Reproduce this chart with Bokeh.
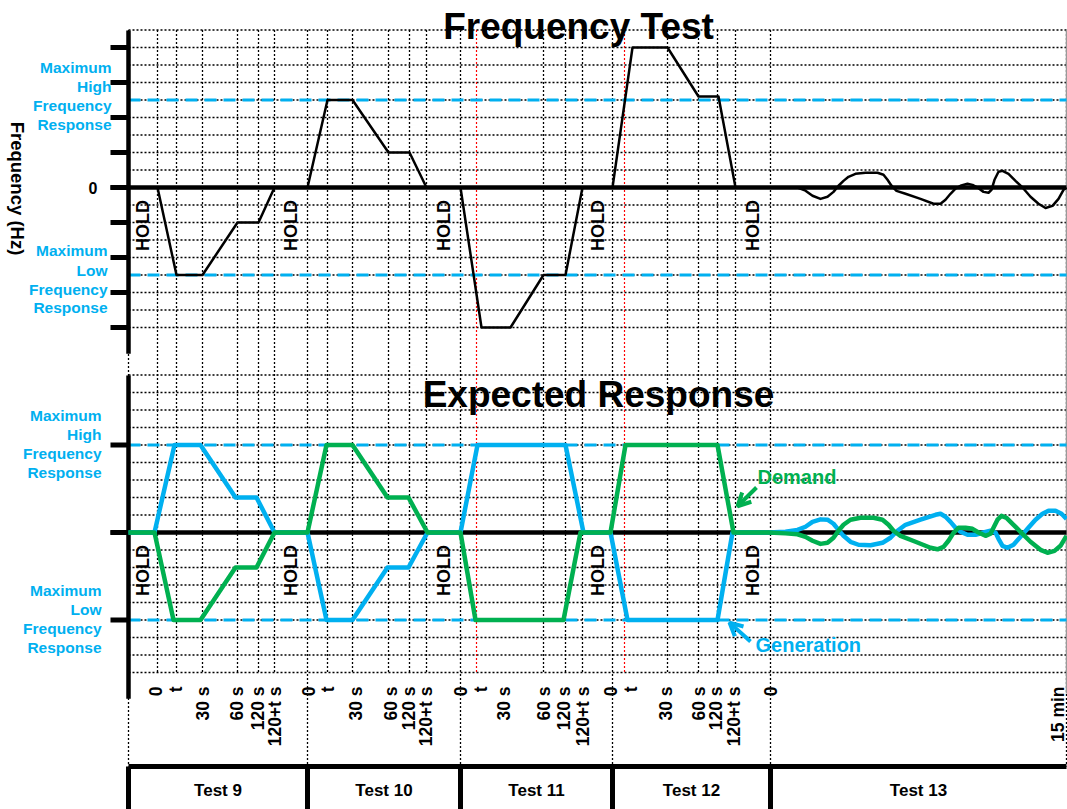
import numpy as np
from bokeh.plotting import figure
from bokeh.models import Range1d, Arrow, OpenHead
from bokeh.core.properties import value
from bokeh.embed import file_html
from bokeh.resources import INLINE

FONT = value("Liberation Sans")
CYAN = "#00B0F0"
GREEN = "#00B050"

# ---------------- data (schematic time axis, panel units) ----------------
tests = ["Test 9", "Test 10", "Test 11", "Test 12", "Test 13"]
test_edges = [0, 179, 332, 484, 642, 938]
hold_start = [0, 146, 298, 454, 607]
hold_end = [29, 179, 332, 484, 642]

tick_x = [27, 47, 74, 108, 129, 146,
          180, 199, 227, 262, 280, 297,
          332, 352, 375, 415, 435, 454,
          482, 502, 537, 570, 587, 605,
          642, 929]
tick_labels = ["0", "t", "30 s", "60 s", "120 s", "120+t s"] * 4 + ["0", "15 min"]

grid_x = [29, 48, 74, 109, 130, 146, 199, 224, 260, 281, 298,
          415, 437, 454, 539, 570, 589, 607]
red_x = [348, 496]

top_ticks = [-8, -6, -4, -2, 0, 2, 4, 6, 8]
bot_ticks = [-5, 0, 5]
limits = [5, -5]

# Frequency Test (black)
freq_x = [0, 29, 48, 74, 109, 130, 146,
          179, 199, 224, 260, 281, 298,
          332, 353, 382, 415, 437, 454,
          484, 504, 539, 570, 590, 607,
          642, 669, 677, 684, 692, 699, 705, 710, 715, 720, 727, 737, 749, 755,
          759, 763, 768, 777, 792, 805, 812, 817, 822, 827, 832, 839, 844, 849,
          855, 860, 863, 866, 870, 874, 880, 887, 894, 902, 910, 917, 924, 930,
          935, 938]
freq_y = [0, 0, -5, -5, -2, -2, 0,
          0, 5, 5, 2, 2, 0,
          0, -8, -8, -5, -5, 0,
          0, 8, 8, 5.2, 5.2, 0,
          0, 0, -0.18, -0.47, -0.65, -0.53, -0.25, 0.1, 0.38, 0.61, 0.78, 0.84, 0.84, 0.73,
          0.44, 0.1, -0.19, -0.36, -0.65, -0.93, -0.93, -0.7, -0.36, -0.07, 0.1, 0.21, 0.15, 0,
          -0.25, -0.3, -0.13, 0.44, 0.9, 0.95, 0.78, 0.38, 0, -0.53, -0.93, -1.17, -1.05, -0.65,
          -0.13, 0]

# Expected Response: Generation (blue)
gen_x = [0, 26, 46, 72, 107, 128, 146,
         179, 198, 224, 259, 280, 299,
         332, 349, 437, 455,
         482, 499, 589, 604,
         640, 657, 669, 677, 684, 692, 699, 705, 710, 715, 722, 730, 742, 754, 762,
         769, 777, 792, 807, 812, 817, 822, 827, 832, 839, 847, 855, 862, 867, 870,
         874, 879, 885, 892, 899, 907, 914, 920, 927, 933, 938]
gen_y = [0, 0, 5, 5, 2, 2, 0,
         0, -5, -5, -2, -2, 0,
         0, 5, 5, 0,
         0, -5, -5, 0,
         0, 0.04, 0.15, 0.33, 0.61, 0.75, 0.73, 0.5, 0.15, -0.19, -0.53, -0.7, -0.73, -0.59, -0.3,
         0.1, 0.44, 0.73, 1.01, 1.07, 0.9, 0.61, 0.27, 0.04, -0.13, -0.13, 0, 0.1, 0, -0.36,
         -0.76, -0.87, -0.7, -0.25, 0.21, 0.73, 1.07, 1.24, 1.24, 1.07, 0.78]

# Expected Response: Demand (green)
dem_x = [0, 26, 45, 72, 107, 128, 146,
         179, 198, 224, 259, 280, 299,
         332, 347, 435, 452,
         482, 497, 589, 605,
         640, 657, 669, 677, 684, 692, 699, 705, 710, 715, 722, 732, 745, 754, 760,
         765, 772, 787, 802, 809, 815, 820, 825, 830, 837, 844, 850, 857, 862, 865,
         869, 873, 878, 885, 892, 902, 912, 919, 926, 932, 938]
dem_y = [0, 0, -5, -5, -2, -2, 0,
         0, 5, 5, 2, 2, 0,
         0, -5, -5, 0,
         0, 5, 5, 0,
         0, -0.05, -0.1, -0.25, -0.47, -0.65, -0.59, -0.3, 0.1, 0.44, 0.73, 0.84, 0.84, 0.73, 0.44,
         0.1, -0.19, -0.53, -0.87, -0.96, -0.82, -0.47, -0.02, 0.27, 0.27, 0.21, 0, -0.19, -0.07, 0.27,
         0.73, 0.95, 0.84, 0.44, 0.04, -0.53, -0.99, -1.16, -1.05, -0.76, -0.19]

# ---------------- layout ----------------
W, H = 1067, 809
U = 17.5                 # px per unit
TOP0 = 187.0             # canvas row of top-panel zero
BOT0 = 532.0             # canvas row of bottom-panel zero
OFF = (BOT0 - TOP0) / U  # bottom-panel offset in top units
X0 = 128                 # canvas column of the axis


def ycan(py):
    """canvas pixel row -> top-panel units"""
    return (TOP0 - py) / U


p = figure(width=W, height=H, x_range=Range1d(-X0, W - X0),
           y_range=Range1d((TOP0 - H) / U, TOP0 / U),
           x_axis_type=None, y_axis_type=None,
           toolbar_location=None, output_backend="svg",
           min_border=0, outline_line_color=None,
           background_fill_color="white", border_fill_color="white")
p.extra_y_ranges = {"bot": Range1d((BOT0 - H) / U, BOT0 / U)}

XL, XR = 0, 938
levels = list(range(-8, 10))
DOT = dict(line_color="black", line_width=1.3, line_dash="2 2")

# horizontal dotted grid
p.segment(x0=[XL] * len(levels), x1=[XR] * len(levels), y0=levels, y1=levels, **DOT)
p.segment(x0=[XL] * len(levels), x1=[XR] * len(levels), y0=levels, y1=levels,
          y_range_name="bot", **DOT)

# vertical dotted grid
gtop, gbot = 9.0, -8.0 - OFF
p.segment(x0=grid_x, x1=grid_x, y0=[gtop] * len(grid_x), y1=[gbot] * len(grid_x), **DOT)
box_y = ycan(766)
p.segment(x0=test_edges, x1=test_edges, y0=[gtop] * len(test_edges),
          y1=[box_y] * len(test_edges), **DOT)
p.segment(x0=red_x, x1=red_x, y0=[gtop] * len(red_x), y1=[gbot] * len(red_x),
          line_color="red", line_width=1.2, line_dash="2 2")
p.segment(x0=[XR], x1=[XR], y0=[gtop], y1=[ycan(693)], line_color="#999999", line_width=1.5)

# response limits (cyan dashed)
for rng in ("default", "bot"):
    p.segment(x0=[XL] * 2, x1=[XR] * 2, y0=limits, y1=limits,
              line_color=CYAN, line_width=3, line_dash="12 7", y_range_name=rng)

# zero lines and ticks
p.segment(x0=[-18], x1=[XR], y0=[0], y1=[0], line_color="black", line_width=4.5)
p.segment(x0=[-18], x1=[XR], y0=[0], y1=[0], line_color="black", line_width=4.5,
          y_range_name="bot")
p.segment(x0=[-18] * len(top_ticks), x1=[0] * len(top_ticks), y0=top_ticks, y1=top_ticks,
          line_color="black", line_width=5)
p.segment(x0=[-18] * len(bot_ticks), x1=[0] * len(bot_ticks), y0=bot_ticks, y1=bot_ticks,
          line_color="black", line_width=5, y_range_name="bot")

# left axis lines
p.segment(x0=[0], x1=[0], y0=[8.97], y1=[-9.5], line_color="black", line_width=4.5)
p.segment(x0=[0], x1=[0], y0=[8.97], y1=[-9.5], line_color="black", line_width=4.5,
          y_range_name="bot")

# series
p.line(freq_x, freq_y, line_color="black", line_width=2.5, line_join="round")
p.line(gen_x, gen_y, line_color=CYAN, line_width=4.5, line_join="round", y_range_name="bot")
p.line(dem_x, dem_y, line_color=GREEN, line_width=4.5, line_join="round", y_range_name="bot")

# HOLD labels
hold_mid = [(a + b) / 2 for a, b in zip(hold_start, hold_end)]
for rng in ("default", "bot"):
    p.text(x=hold_mid, y=[-2.17] * len(hold_mid), text=["HOLD"] * len(hold_mid),
           angle=np.pi / 2, text_align="center", text_baseline="middle",
           text_font=FONT, text_font_style="bold", text_font_size="18px",
           text_color="black", y_range_name=rng)

# titles
p.text(x=[450], y=[ycan(26)], text=["Frequency Test"], text_align="center",
       text_baseline="alphabetic", text_font=FONT, text_font_style="bold",
       text_font_size="37px", text_color="black")
p.text(x=[470], y=[ycan(394)], text=["Expected Response"], text_align="center",
       text_baseline="alphabetic", text_font=FONT, text_font_style="bold",
       text_font_size="37px", text_color="black")

# y-axis title and zero label
p.text(x=[-111], y=[ycan(188)], text=["Frequency (Hz)"], angle=-np.pi / 2,
       text_align="center", text_baseline="middle", text_font=FONT,
       text_font_style="bold", text_font_size="18.5px", text_color="black")
p.text(x=[-31], y=[0], text=["0"], text_align="right", text_baseline="middle",
       text_font=FONT, text_font_style="bold", text_font_size="16px", text_color="black")

# limit labels
hi_words = ["Maximum", "High", "Frequency", "Response"]
lo_words = ["Maximum", "Low", "Frequency", "Response"]


def word_block(words, xr, rows):
    p.text(x=[xr] * len(words), y=[ycan(r) for r in rows], text=words,
           text_align="right", text_baseline="middle", text_font=FONT,
           text_font_style="bold", text_font_size="15.5px", text_color=CYAN)


word_block(hi_words, -17, [67, 86, 105, 124])
word_block(lo_words, -21, [250, 270, 289, 307])
word_block(hi_words, -27, [415, 434, 453, 472])
word_block(lo_words, -27, [590, 609, 628, 647])

# tick labels
p.text(x=tick_x, y=[ycan(686)] * len(tick_x), text=tick_labels, angle=np.pi / 2,
       text_align="right", text_baseline="middle", text_font=FONT,
       text_font_style="bold", text_font_size="17.5px", text_color="black")

# test boxes
p.segment(x0=[XL], x1=[XR], y0=[box_y], y1=[box_y], line_color="black", line_width=5)
sep = test_edges[:-1]
p.segment(x0=sep, x1=sep, y0=[box_y] * len(sep), y1=[ycan(815)] * len(sep),
          line_color="black", line_width=5)
centers = [(a + b) / 2 for a, b in zip(test_edges[:-1], test_edges[1:])]
p.text(x=centers, y=[ycan(790)] * len(centers), text=tests, text_align="center",
       text_baseline="middle", text_font=FONT, text_font_style="bold",
       text_font_size="17px", text_color="black")

# Demand / Generation annotations
p.text(x=[629], y=[3.2], text=["Demand"], text_align="left", text_baseline="middle",
       text_font=FONT, text_font_style="bold", text_font_size="20px",
       text_color=GREEN, y_range_name="bot")
p.text(x=[627], y=[-6.4], text=["Generation"], text_align="left", text_baseline="middle",
       text_font=FONT, text_font_style="bold", text_font_size="20px",
       text_color=CYAN, y_range_name="bot")
p.add_layout(Arrow(end=OpenHead(line_color=GREEN, line_width=4, size=13),
                   x_start=628, y_start=2.57, x_end=609, y_end=1.5,
                   line_color=GREEN, line_width=4, y_range_name="bot"))
p.add_layout(Arrow(end=OpenHead(line_color=CYAN, line_width=4, size=13),
                   x_start=622, y_start=-6.23, x_end=601, y_end=-5.15,
                   line_color=CYAN, line_width=4, y_range_name="bot"))

open("out.html", "w").write(file_html(p, INLINE))
